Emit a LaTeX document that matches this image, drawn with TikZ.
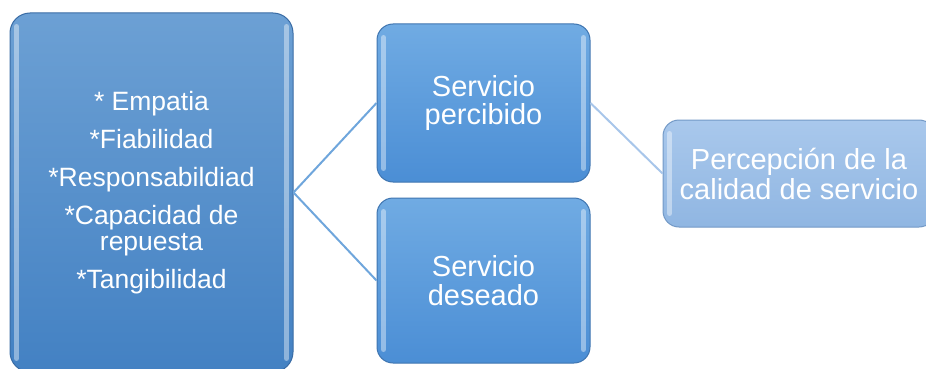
\documentclass[tikz,border=0pt]{standalone}
\usepackage{fontspec}
\setmainfont{Liberation Sans}

\definecolor{leftTop}{HTML}{6CA0D4}
\definecolor{leftBot}{HTML}{4381C3}
\definecolor{leftEdge}{HTML}{3A6CA5}
\definecolor{midTop}{HTML}{70ABE3}
\definecolor{midBot}{HTML}{4B8ED5}
\definecolor{midEdge}{HTML}{3F75B0}
\definecolor{paleTop}{HTML}{A9C8EC}
\definecolor{paleBot}{HTML}{90B6E2}
\definecolor{paleEdge}{HTML}{7399C6}
\definecolor{linkBlue}{HTML}{6FA6DC}
\definecolor{linkPale}{HTML}{A8C6EA}

\begin{document}
\begin{tikzpicture}[x=1pt,y=-1pt,
  box/.style={draw=midEdge, line width=1pt, rounded corners=16pt,
    top color=midTop, bottom color=midBot, text=white, align=center,
    inner sep=0pt},
  bevel/.style={white, opacity=0.4, line width=5pt, line cap=round},
  link/.style={draw=linkBlue, line width=2pt}]
  \useasboundingbox (0,0) rectangle (926,369);
  \clip (0,0) rectangle (926,369);

  % boxes
  \node[box, draw=leftEdge, top color=leftTop, bottom color=leftBot,
    rounded corners=20pt, minimum width=283pt, minimum height=359pt,
    font=\fontsize{26.5}{26}\selectfont] (factores) at (151.5,192.5)
    {* Empatia\\[12pt]*Fiabilidad\\[12pt]*Responsabildiad\\[12pt]%
     *Capacidad de\\repuesta\\[12pt]*Tangibilidad};
  \node[box, minimum width=213pt, minimum height=158pt,
    font=\fontsize{29}{28.5}\selectfont] (percibido) at (483.5,103)
    {Servicio\\percibido};
  \node[box, minimum width=213pt, minimum height=165pt,
    font=\fontsize{29}{28.5}\selectfont] (deseado) at (483.5,280.5)
    {Servicio\\deseado};
  \node[box, draw=paleEdge, top color=paleTop, bottom color=paleBot,
    minimum width=272pt, minimum height=107pt,
    font=\fontsize{29}{30}\selectfont] (calidad) at (799,173.5)
    {Percepción de la\\calidad de servicio};

  % bevel highlights
  \foreach \n in {factores,percibido,deseado,calidad} {
    \draw[bevel] ([xshift=7pt,yshift=-14pt]\n.north west) -- ([xshift=7pt,yshift=14pt]\n.south west);
    \draw[bevel] ([xshift=-7pt,yshift=-14pt]\n.north east) -- ([xshift=-7pt,yshift=14pt]\n.south east);
  }

  % connectors
  \draw[link] (factores.east) -- (percibido.west);
  \draw[link] (factores.east) -- (deseado.west);
  \draw[link, draw=linkPale] (percibido.east) -- (calidad.west);
\end{tikzpicture}
\end{document}
